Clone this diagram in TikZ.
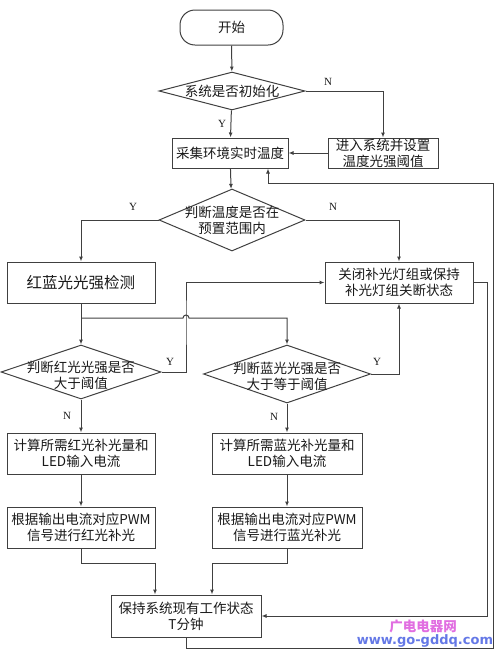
\documentclass[tikz,border=0pt]{standalone}
\usepackage{fontspec}
\setmainfont{Liberation Serif}
\newfontfamily\cjk{Noto Sans CJK SC}
\newfontfamily\markfont{DejaVu Sans}
\usetikzlibrary{shapes.geometric,arrows.meta}

\begin{document}
\begin{tikzpicture}[x=1pt, y=-1pt, line width=1pt, draw=black!75, text=black!90,
  font=\cjk\fontsize{13.5}{16}\selectfont,
  box/.style={draw=black!75, rectangle, inner sep=0pt, align=center, minimum width=148pt, minimum height=41pt},
  decision/.style={draw=black!75, diamond, inner sep=0pt},
  yn/.style={font=\rmfamily\fontsize{11}{11}\selectfont},
  arr/.style={draw=black!75, -{Latex[length=5pt,width=4pt]}}]
  \useasboundingbox (0,0) rectangle (499,654);
  % el inicio y la inicialización
  \node[draw=black!75, rounded corners=15pt, minimum width=103pt, minimum height=35pt] (start) at (231.5,27.5) {开始};
  \node[decision, minimum width=146pt, minimum height=38pt, label={center:系统是否初始化}] (init) at (232,91) {};
  \node[box, minimum width=116pt, minimum height=30pt] (sample) at (230,153) {采集环境实时温度};
  \node[box, minimum width=110pt, minimum height=30pt] (setup) at (383,153) {进入系统并设置\\温度光强阈值};
  % la temperatura
  \node[decision, minimum width=146pt, minimum height=62pt, label={[align=center]center:判断温度是否在\\预置范围内}] (temp) at (232,220) {};
  \node[box, font=\cjk\fontsize{15.5}{18}\selectfont] (detect) at (81,282.5) {红蓝光光强检测};
  \node[box] (close) at (399,282.5) {关闭补光灯组或保持\\补光灯组关断状态};
  % las dos ramas, roja y azul
  \node[decision, minimum width=160pt, minimum height=54pt, label={[align=center, yshift=-3pt]center:判断红光光强是否\\大于阈值}] (red) at (81,372) {};
  \node[decision, minimum width=167pt, minimum height=58pt, label={[align=center, yshift=-2pt]center:判断蓝光光强是否\\大于等于阈值}] (blue) at (287,374) {};
  \node[box] (calcr) at (81,453.5) {计算所需红光补光量和\\LED输入电流};
  \node[box, minimum width=150pt] (calcb) at (287,453.5) {计算所需蓝光补光量和\\LED输入电流};
  \node[box] (pwmr) at (81,527.5) {根据输出电流对应PWM\\信号进行红光补光};
  \node[box, minimum width=150pt] (pwmb) at (287,527.5) {根据输出电流对应PWM\\信号进行蓝光补光};
  \node[box, minimum width=150pt, minimum height=42pt] (keep) at (186,616) {保持系统现有工作状态\\T分钟};
  \coordinate (jump) at (186,318);
  % las flechas
  \draw[arr] (start) -- (init);
  \draw[arr] (init) -- (sample);
  \draw[arr] (init.east) -| (setup);
  \draw[arr] (setup) -- (sample);
  \draw[arr] (sample) -- (temp);
  \draw[arr] (temp.west) -| (detect);
  \draw[arr] (temp.east) -| (close);
  \draw[arr] (detect) -- (red);
  \draw[arr] (detect.south |- jump) -- ([xshift=-3pt]jump) arc[start angle=180, end angle=360, radius=3] -| (blue.north);
  \draw[arr] (red.east) -| (jump) |- (close.west);
  \draw[arr] (blue.east) -| (close.south);
  \draw[arr] (red) -- (calcr);
  \draw[arr] (blue) -- (calcb);
  \draw[arr] (calcr) -- (pwmr);
  \draw[arr] (calcb) -- (pwmb);
  \draw[arr] (pwmr.south) -- ++(0,15) -| ([xshift=-31pt]keep.north);
  \draw[arr] (pwmb.south) -- ++(0,15) -| ([xshift=26pt]keep.north);
  \draw[arr] (close.east) -- ++(14,0) |- (keep.east);
  \draw[arr] (keep.south) -- ++(0,11) -| (493,183) -| ([xshift=38pt]sample.south);
  % las Y y las N
  \node[yn] at (222,124) {Y};
  \node[yn] at (328,82) {N};
  \node[yn] at (133,207) {Y};
  \node[yn] at (333,207) {N};
  \node[yn] at (170,362) {Y};
  \node[yn] at (377,362) {Y};
  \node[yn] at (67,416) {N};
  \node[yn] at (274,417) {N};
  % la marca de agua
  \node[text={rgb,255:red,225;green,110;blue,225}, font=\cjk\bfseries\fontsize{13.5}{16}\selectfont] at (423,626) {广电电器网};
  \node[text={rgb,255:red,100;green,120;blue,230}, font=\markfont\bfseries\fontsize{13}{13}\selectfont] at (425,641) {www.go-gddq.com};
\end{tikzpicture}
\end{document}
